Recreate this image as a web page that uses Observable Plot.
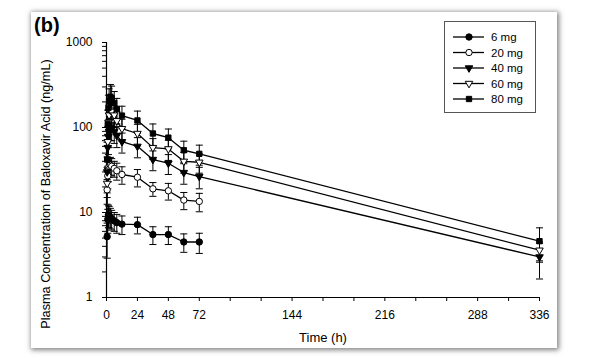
<!DOCTYPE html>
<html><head><meta charset="utf-8">
<script src="https://cdn.jsdelivr.net/npm/d3@7"></script>
<script src="https://cdn.jsdelivr.net/npm/@observablehq/plot@0.6"></script>
<style>
body{margin:0;background:#fff;font-family:"Liberation Sans",Arial,sans-serif;}
#wrap{position:relative;width:597px;height:363px;overflow:hidden;background:#fff;}
#frame{position:absolute;left:31px;top:12px;width:526px;height:336px;background:#fff;box-shadow:1px 1px 5px 1px rgba(0,0,0,0.5);}
#tag{position:absolute;left:34px;top:13px;font-weight:bold;font-size:20px;line-height:24px;}
#chart{position:absolute;left:0;top:0;}
#legend{position:absolute;left:444px;top:21px;width:92px;height:92px;border:1px solid #555;box-sizing:border-box;background:#fff;}
</style></head>
<body>
<div id="wrap">
  <div id="frame"></div>
  <div id="chart"></div>
  <div id="tag">(b)</div>
  <div id="legend"></div>
</div>
<script>
// ---- data ----
const doses = ["6 mg", "20 mg", "40 mg", "60 mg", "80 mg"];

const time6 = [0.5, 1, 1.5, 2, 3, 4, 6, 8, 12, 24, 36, 48, 60, 72];
const mean6 = [5.2, 8.3, 9.4, 9.2, 8.8, 8.4, 8.0, 7.6, 7.3, 7.2, 5.5, 5.5, 4.5, 4.5];
const sd6   = [2.3, 2.6, 2.8, 2.6, 2.4, 2.2, 2.0, 1.9, 1.8, 1.6, 1.3, 1.3, 1.1, 1.2];

const time20 = [0.5, 1, 1.5, 2, 3, 4, 6, 8, 12, 24, 36, 48, 60, 72];
const mean20 = [18.5, 27, 32, 35, 36, 35, 33, 31, 28, 26, 19, 18, 14, 13.5];
const sd20   = [6, 8, 9, 9, 8.5, 8, 7, 7, 6.5, 6, 3.5, 4, 3.2, 3.3];

const time40 = [0.5, 1, 1.5, 2, 3, 4, 6, 8, 12, 24, 36, 48, 60, 72, 336];
const mean40 = [30, 58, 78, 90, 100, 98, 90, 80, 68, 60, 42, 38, 29.5, 26.5, 3.0];
const sd40   = [15, 25, 30, 32, 30, 28, 25, 22, 18, 16, 11, 10, 8, 7.5, 1.35];

const time60 = [0.5, 1, 1.5, 2, 3, 4, 6, 8, 12, 24, 36, 48, 60, 72, 336];
const mean60 = [22, 68, 115, 140, 160, 155, 140, 120, 97, 85, 58, 56, 40, 39, 3.6];
const sd60   = [12, 35, 45, 48, 50, 45, 40, 35, 28, 24, 16, 15, 11, 10, 0.9];

const time80 = [0.5, 1, 1.5, 2, 3, 4, 6, 8, 12, 24, 36, 48, 60, 72, 336];
const mean80 = [42, 110, 170, 205, 230, 222, 195, 165, 138, 121, 85, 76, 54, 49, 4.6];
const sd80   = [25, 50, 70, 80, 90, 85, 70, 55, 40, 35, 25, 20, 15, 13, 2.0];

const xTicks  = [0, 24, 48, 72, 96, 120, 144, 168, 192, 216, 240, 264, 288, 312, 336];
const xLabels = [0, 24, 48, 72, 144, 216, 288, 336];
const yTicks  = [1,2,3,4,5,6,7,8,9,10,20,30,40,50,60,70,80,90,100,200,300,400,500,600,700,800,900,1000];
const yLabels = [1, 10, 100, 1000];

const xTitle = "Time (h)";
const yTitle = "Plasma Concentration of Baloxavir Acid (ng/mL)";

// ---- build table ----
const seriesList = [
  {dose: doses[0], time: time6,  mean: mean6,  sd: sd6},
  {dose: doses[1], time: time20, mean: mean20, sd: sd20},
  {dose: doses[2], time: time40, mean: mean40, sd: sd40},
  {dose: doses[3], time: time60, mean: mean60, sd: sd60},
  {dose: doses[4], time: time80, mean: mean80, sd: sd80}
];
const rows = seriesList.flatMap(s => s.time.map((t, i) => ({
  dose: s.dose, time: t, mean: s.mean[i],
  lo: Math.max(s.mean[i] - s.sd[i], 1.05), hi: s.mean[i] + s.sd[i]
})));

// ---- symbols ----
const triDown = {draw(ctx, size) {
  const a = Math.sqrt(4 * size / Math.sqrt(3)), h = a * Math.sqrt(3) / 2;
  ctx.moveTo(-a / 2, -h / 3); ctx.lineTo(a / 2, -h / 3); ctx.lineTo(0, 2 * h / 3); ctx.closePath();
}};
const capSym = {draw(ctx, size) {
  const w = Math.sqrt(size) / 2; ctx.moveTo(-w, 0); ctx.lineTo(w, 0);
}};
const styles = [
  {dose: doses[0], symbol: "circle", fill: "black", r: 3.2},
  {dose: doses[1], symbol: "circle", fill: "white", r: 3.2},
  {dose: doses[2], symbol: triDown, fill: "black", r: 2.8},
  {dose: doses[3], symbol: triDown, fill: "white", r: 2.8},
  {dose: doses[4], symbol: "square", fill: "black", r: 3.0}
];

const plot = Plot.plot({
  width: 597, height: 363,
  marginLeft: 106, marginRight: 58, marginTop: 42, marginBottom: 66,
  style: {background: "transparent", fontFamily: "Liberation Sans, Arial, sans-serif", fontSize: "12px", color: "black"},
  x: {domain: [0, 336], ticks: xTicks, tickFormat: d => xLabels.includes(d) ? String(d) : "", tickSize: 4, tickPadding: 9, label: null},
  y: {type: "log", domain: [1, 1000], ticks: yTicks, tickFormat: d => yLabels.includes(d) ? String(d) : "", tickSize: 4, tickPadding: 10, label: null},
  marks: [
    Plot.ruleX([0], {stroke: "black", strokeWidth: 1.2}),
    Plot.ruleY([1], {stroke: "black", strokeWidth: 1.2}),
    Plot.ruleX(rows, {x: "time", y1: "lo", y2: "hi", stroke: "black", strokeWidth: 1}),
    Plot.dot(rows, {x: "time", y: "lo", symbol: capSym, r: 4, stroke: "black", fill: "none", strokeWidth: 1}),
    Plot.dot(rows, {x: "time", y: "hi", symbol: capSym, r: 4, stroke: "black", fill: "none", strokeWidth: 1}),
    Plot.line(rows, {x: "time", y: "mean", z: "dose", stroke: "black", strokeWidth: 1.3}),
    ...styles.map(s => Plot.dot(rows.filter(r => r.dose === s.dose),
      {x: "time", y: "mean", symbol: s.symbol, r: s.r, fill: s.fill, stroke: "black", strokeWidth: 1})),
    Plot.text([xTitle], {frameAnchor: "bottom", dy: 44, fontSize: 13}),
    Plot.text([yTitle], {frameAnchor: "left", textAnchor: "middle", dx: -61, dy: 24, rotate: -90, fontSize: 12.7})
  ]
});
document.getElementById("chart").appendChild(plot);

// ---- legend ----
const lg = d3.select("#legend").append("svg").attr("width", 90).attr("height", 90)
  .style("font-family", "Liberation Sans, Arial, sans-serif").style("font-size", "11.5px");
styles.forEach((s, i) => {
  const y = 15 + i * 15.5;
  const g = lg.append("g").attr("transform", `translate(0,${y})`);
  g.append("line").attr("x1", 8).attr("x2", 39).attr("y1", 0).attr("y2", 0).attr("stroke", "black").attr("stroke-width", 1.3);
  const type = s.symbol === "circle" ? d3.symbolCircle : s.symbol === "square" ? d3.symbolSquare : s.symbol;
  g.append("path").attr("transform", "translate(24,0)").attr("d", d3.symbol(type, Math.PI * s.r * s.r)())
    .attr("fill", s.fill).attr("stroke", "black");
  g.append("text").attr("x", 46).attr("y", 0).attr("dy", "0.35em").text(s.dose);
});
</script>
</body></html>
